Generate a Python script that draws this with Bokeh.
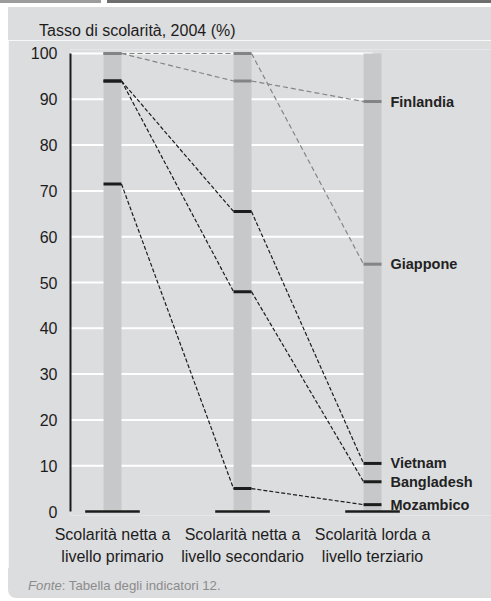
from bokeh.plotting import figure
from bokeh.models import Range1d, FixedTicker, Label, Div, Spacer
from bokeh.layouts import column, row
from bokeh.embed import file_html
from bokeh.resources import INLINE

# ---- data ----
levels = ["Scolarità netta a\nlivello primario",
          "Scolarità netta a\nlivello secondario",
          "Scolarità lorda a\nlivello terziario"]
countries = ["Finlandia", "Giappone", "Vietnam", "Bangladesh", "Mozambico"]
finlandia = [100, 94, 89.5]
giappone = [100, 100, 54]
vietnam = [94, 65.5, 10.5]
bangladesh = [94, 48, 6.5]
mozambico = [71.5, 5, 1.5]
series = [finlandia, giappone, vietnam, bangladesh, mozambico]
developed = [True, True, False, False, False]
y_ticks = [0, 10, 20, 30, 40, 50, 60, 70, 80, 90, 100]
title_text = "Tasso di scolarità, 2004 (%)"
source_label = "Fonte"
source_text = ": Tabella degli indicatori 12."

FONT = "Liberation Sans"
PANEL = "#dcdddf"
BAR = "#c7c8ca"
GRAYMARK = "#838486"
DARK = "#1c1c1c"

xs = [0, 1, 2]
hw = 0.069  # half bar width in x units

p = figure(width=483, height=528, output_backend="svg", toolbar_location=None,
           x_range=Range1d(-0.323, 2.915), y_range=Range1d(-0.87, 100.87),
           min_border_left=62, min_border_right=0, min_border_top=9, min_border_bottom=49)
p.background_fill_color = PANEL
p.border_fill_color = PANEL
p.outline_line_color = None
p.xgrid.visible = False
p.ygrid.visible = False

# grid lines (white), from axis to third column
gy = [t for t in y_ticks if t > 0]
p.segment(x0=[-0.323] * len(gy), x1=[2] * len(gy), y0=gy, y1=gy,
          line_color="white", line_width=2)

# column bars
p.vbar(x=xs, top=[100] * 3, bottom=[0] * 3, width=2 * hw, fill_color=BAR, line_color=None)

# baselines
p.segment(x0=[x - 0.21 for x in xs], x1=[x + 0.21 for x in xs], y0=[0] * 3, y1=[0] * 3,
          line_color=DARK, line_width=2.5)

# connecting dashed lines
for vals, dev in zip(series, developed):
    col = "#858585" if dev else DARK
    dash = "5 3" if dev else "4 2"
    for i in range(2):
        p.line(x=[xs[i] + hw, xs[i + 1] - hw], y=[vals[i], vals[i + 1]],
               line_color=col, line_width=1.2, line_dash=dash)

# marks
for vals, dev in zip(series, developed):
    col = GRAYMARK if dev else DARK
    p.segment(x0=[x - hw for x in xs], x1=[x + hw for x in xs], y0=vals, y1=vals,
              line_color=col, line_width=3)

# country labels
for name, vals in zip(countries, series):
    p.add_layout(Label(x=2.138, y=vals[2], text=name, text_font=FONT, text_font_size="14.5px",
                       text_font_style="bold", text_color="#222222", text_baseline="middle"))

# axes
ya = p.yaxis[0]
ya.ticker = FixedTicker(ticks=y_ticks)
ya.bounds = (0, 100)
ya.axis_line_width = 2
ya.axis_line_color = DARK
ya.major_tick_line_color = None
ya.minor_tick_line_color = None
ya.major_label_standoff = 7
ya.major_label_text_font = FONT
ya.major_label_text_font_size = "16px"
ya.major_label_text_color = DARK

xa = p.xaxis[0]
xa.ticker = FixedTicker(ticks=xs)
xa.major_label_overrides = {i: levels[i] for i in range(3)}
xa.axis_line_color = None
xa.major_tick_line_color = None
xa.minor_tick_line_color = None
xa.major_label_standoff = 4
xa.major_label_text_font = FONT
xa.major_label_text_font_size = "16px"
xa.major_label_text_line_height = 1.35
xa.major_label_text_color = DARK

top_html = (
    '<div style="position:relative;width:491px;height:40px;background:white;margin:0;padding:0;">'
    '<div style="position:absolute;left:0;top:0;width:101px;height:3px;background:#9c9c9c;"></div>'
    '<div style="position:absolute;left:107px;top:0;width:384px;height:3px;background:#6e6e6e;"></div>'
    '<div style="position:absolute;left:8px;top:7px;width:483px;height:33px;background:%s;"></div>'
    '<div style="position:absolute;left:39px;top:23px;white-space:nowrap;font-family:\'%s\';'
    'font-size:16px;line-height:1;color:%s;">%s</div>'
    '</div>' % (PANEL, FONT, DARK, title_text))
bottom_html = (
    '<div style="position:relative;width:491px;height:33px;background:white;margin:0;padding:0;">'
    '<div style="position:absolute;left:8px;top:0;width:483px;height:30px;background:%s;'
    'border-bottom-left-radius:8px;"></div>'
    '<div style="position:absolute;left:28px;top:11px;white-space:nowrap;font-family:\'%s\';'
    'font-size:13.2px;line-height:1;color:#8c8c8c;"><i>%s</i>%s</div>'
    '</div>' % (PANEL, FONT, source_label, source_text))

top_div = Div(text=top_html, width=491, height=40, margin=0)
bottom_div = Div(text=bottom_html, width=491, height=33, margin=0)
layout = column(top_div,
                row(Spacer(width=8, height=528, margin=0), p, spacing=0),
                bottom_div, spacing=0)

open("out.html", "w").write(file_html(layout, INLINE))
